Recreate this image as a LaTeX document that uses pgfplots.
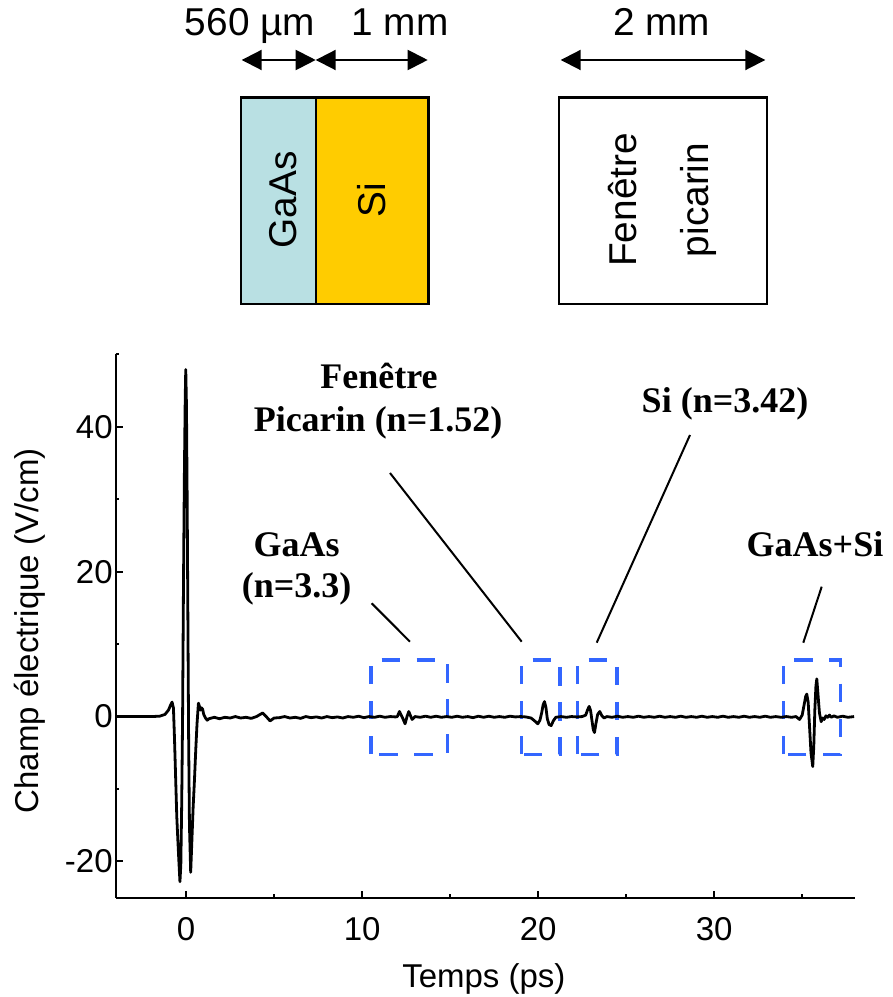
\documentclass[border=0pt]{standalone}
\usepackage{fontspec}
\setmainfont{Liberation Sans}
\newfontfamily\annfont{Liberation Serif}
\usepackage{pgfplots}
\pgfplotsset{compat=1.18}
\usetikzlibrary{arrows.meta}
\definecolor{gaas}{RGB}{185,224,227}
\definecolor{sicol}{RGB}{255,204,0}
\definecolor{boxblue}{RGB}{51,102,255}

\pgfplotstableread{
t E
-4.0 0.0
-2.0 0.0
-1.5 0.05
-1.2 0.3
-1.0 0.9
-0.88 1.6
-0.8 2.0
-0.72 1.2
-0.66 -3.0
-0.6 -8.0
-0.53 -13.8
-0.47 -17.0
-0.41 -20.0
-0.35 -22.8
-0.3 -20.5
-0.25 -12.0
-0.2 0.0
-0.15 18.0
-0.1 33.0
-0.05 44.0
-0.02 47.9
0.02 43.0
0.06 30.0
0.1 14.0
0.14 -2.0
0.19 -15.0
0.26 -21.5
0.33 -17.0
0.4 -12.5
0.47 -9.0
0.55 -4.5
0.62 -1.0
0.7 1.85
0.76 1.4
0.82 0.9
0.88 1.2
0.94 1.0
1.0 0.3
1.1 -0.2
1.2 -0.5
1.3 -0.3
1.6 -0.1
1.9 -0.3
2.2 -0.1
2.5 -0.2
2.8 0.0
3.1 -0.2
3.4 -0.1
3.7 -0.25
4.0 0.0
4.35 0.5
4.55 0.0
4.77 -0.6
5.0 -0.2
5.3 -0.15
5.6 0.0
5.9 -0.2
6.2 -0.1
6.5 -0.25
6.8 0.0
7.1 -0.15
7.4 -0.05
7.7 -0.2
8.0 0.0
8.3 -0.15
8.6 -0.05
8.9 -0.2
9.2 0.0
9.5 -0.1
9.8 0.05
10.1 -0.15
10.4 0.0
10.7 -0.1
11.0 0.05
11.3 -0.1
11.6 0.0
11.9 -0.05
12.0 0.0
12.12 0.7
12.3 -0.2
12.44 -1.0
12.55 0.0
12.65 0.7
12.75 0.1
12.84 -0.4
13.0 0.0
13.3 -0.1
13.6 0.05
13.9 -0.1
14.2 0.05
14.5 -0.1
14.8 0.0
15.1 -0.1
15.4 0.05
15.7 -0.1
16.0 0.0
16.3 -0.15
16.6 0.05
16.9 -0.1
17.2 0.05
17.5 -0.1
17.8 0.0
18.1 -0.1
18.4 0.05
18.7 -0.05
19.0 0.0
19.3 -0.05
19.6 -0.2
19.8 -0.6
19.98 -1.0
20.1 -0.5
20.2 0.5
20.28 1.6
20.36 2.07
20.44 1.3
20.52 -0.3
20.62 -1.1
20.74 -1.24
20.86 -0.6
21.0 -0.1
21.3 0.0
21.6 -0.1
21.9 0.0
22.2 -0.05
22.5 0.0
22.7 0.2
22.82 1.0
22.9 1.4
22.98 0.8
23.06 -0.6
23.13 -1.8
23.2 -2.2
23.28 -1.0
23.38 0.3
23.5 0.7
23.62 0.1
23.75 -0.2
23.9 0.0
24.2 -0.1
24.5 0.05
24.8 -0.1
25.1 0.0
25.4 -0.1
25.7 0.05
26.0 -0.1
26.3 0.0
26.6 -0.1
26.9 0.05
27.2 -0.1
27.5 0.0
27.8 -0.1
28.1 0.05
28.4 -0.1
28.7 0.0
29.0 -0.1
29.3 0.05
29.6 -0.1
29.9 0.0
30.2 -0.1
30.5 0.05
30.8 -0.1
31.1 0.0
31.4 -0.1
31.7 0.05
32.0 -0.1
32.3 0.0
32.6 -0.1
32.9 0.05
33.2 -0.1
33.5 0.0
33.8 -0.1
34.1 0.0
34.4 -0.1
34.65 0.0
34.85 -0.4
35.0 0.2
35.1 1.5
35.2 2.8
35.26 3.1
35.34 2.0
35.42 -1.5
35.5 -5.0
35.6 -6.9
35.66 -4.0
35.72 1.0
35.78 4.2
35.83 5.2
35.9 3.0
35.98 0.5
36.08 -0.7
36.17 -0.2
36.25 -0.4
36.35 0.1
36.45 -0.1
36.55 0.2
36.65 -0.1
36.8 0.1
37.0 -0.1
37.3 0.05
37.6 -0.1
37.95 0.0
}\signal

\begin{document}
\begin{tikzpicture}[x=0.5pt,y=0.5pt]
\useasboundingbox (0,0) rectangle (893,997);
% ---- sample schematic ----
\draw[line width=1.2pt, fill=gaas] (240.7,693) rectangle (315.7,899.3);
\draw[line width=1.2pt, fill=sicol] (315.7,693) rectangle (428.3,899.3);
\draw[line width=1.2pt] (559,693) rectangle (766.7,899.3);
\begin{scope}[font=\fontsize{19.4}{23}\selectfont]
\node[rotate=90, anchor=base, inner sep=0pt] at (296.7,797) {GaAs};
\node[rotate=90, anchor=base, inner sep=0pt] at (385,797) {Si};
\node[rotate=90, anchor=base, inner sep=0pt] at (636.7,797) {Fenêtre};
\node[rotate=90, anchor=base, inner sep=0pt] at (708.3,797) {picarin};
\node[anchor=base, inner sep=0pt] at (250,961) {560 µm};
\node[anchor=base, inner sep=0pt] at (400,961) {1 mm};
\node[anchor=base, inner sep=0pt] at (661.7,961) {2 mm};
\end{scope}
\draw[line width=1pt, {Triangle[length=10pt,width=10pt]}-{Triangle[length=10pt,width=10pt]}] (241.7,937) -- (315.7,937);
\draw[line width=1pt, {Triangle[length=10pt,width=10pt]}-{Triangle[length=10pt,width=10pt]}] (315.7,937) -- (427.7,937);
\draw[line width=1pt, {Triangle[length=10pt,width=10pt]}-{Triangle[length=10pt,width=10pt]}] (560.7,937) -- (765.3,937);

% ---- time trace ----
\begin{axis}[
  at={(57.85pt,49.65pt)}, anchor=south west,
  scale only axis, width=369.65pt, height=271.7pt,
  xmin=-4, xmax=38, ymin=-25, ymax=50,
  axis x line=bottom, axis y line=left,
  axis line style={-, line width=1pt},
  every tick/.style={black, line width=1pt},
  tick align=inside,
  major tick length=3.5pt, minor tick length=1.8pt,
  xtick={0,10,20,30}, minor xtick={5,15,25,35},
  ytick={-20,0,20,40}, minor ytick={-10,10,30,50},
  tick label style={font=\fontsize{16.5}{19.8}\selectfont},
  /pgf/number format/assume math mode=true,
  xticklabel style={yshift=-6.3pt},
  yticklabel style={xshift=2pt},
  xlabel={Temps (ps)}, ylabel={Champ électrique (V/cm)},
  label style={font=\fontsize{16.5}{19.8}\selectfont},
  xlabel style={at={(axis description cs:0.498,-0.166)}, anchor=base},
  ylabel style={at={(axis description cs:-0.1047,0.491)}, anchor=base},
  clip=false,
]
\draw[boxblue, line width=1.7pt, dash pattern=on 9.2pt off 8.3pt] (axis cs:10.5,-5.2) rectangle (axis cs:14.86,7.8);
\draw[boxblue, line width=1.7pt, dash pattern=on 9.2pt off 8.3pt] (axis cs:19.07,-5.2) rectangle (axis cs:21.25,7.8);
\draw[boxblue, line width=1.7pt, dash pattern=on 9.2pt off 8.3pt] (axis cs:22.25,-5.2) rectangle (axis cs:24.47,7.8);
\draw[boxblue, line width=1.7pt, dash pattern=on 9.2pt off 8.3pt] (axis cs:33.94,-5.2) rectangle (axis cs:37.19,7.8);
\addplot[black, line width=1.4pt, line join=round] table[x=t, y=E] {\signal};
\end{axis}

% ---- annotations ----
\begin{scope}[font=\annfont\bfseries\fontsize{18}{21.6}\selectfont]
\node[anchor=base, inner sep=0pt] at (379,608) {Fenêtre};
\node[anchor=base, inner sep=0pt] at (378,565) {Picarin (n=1.52)};
\node[anchor=base, inner sep=0pt] at (296.7,440.3) {GaAs};
\node[anchor=base, inner sep=0pt] at (296.7,399) {(n=3.3)};
\node[anchor=base, inner sep=0pt] at (725,584) {Si (n=3.42)};
\node[anchor=base, inner sep=0pt] at (815,440.3) {GaAs+Si};
\end{scope}
\draw[line width=1pt] (390,524) -- (521.7,355.3);
\draw[line width=1pt] (371.7,393.7) -- (410,355.3);
\draw[line width=1pt] (690,562) -- (596.7,354.3);
\draw[line width=1pt] (821.7,410.3) -- (803.3,354.3);
\end{tikzpicture}
\end{document}
